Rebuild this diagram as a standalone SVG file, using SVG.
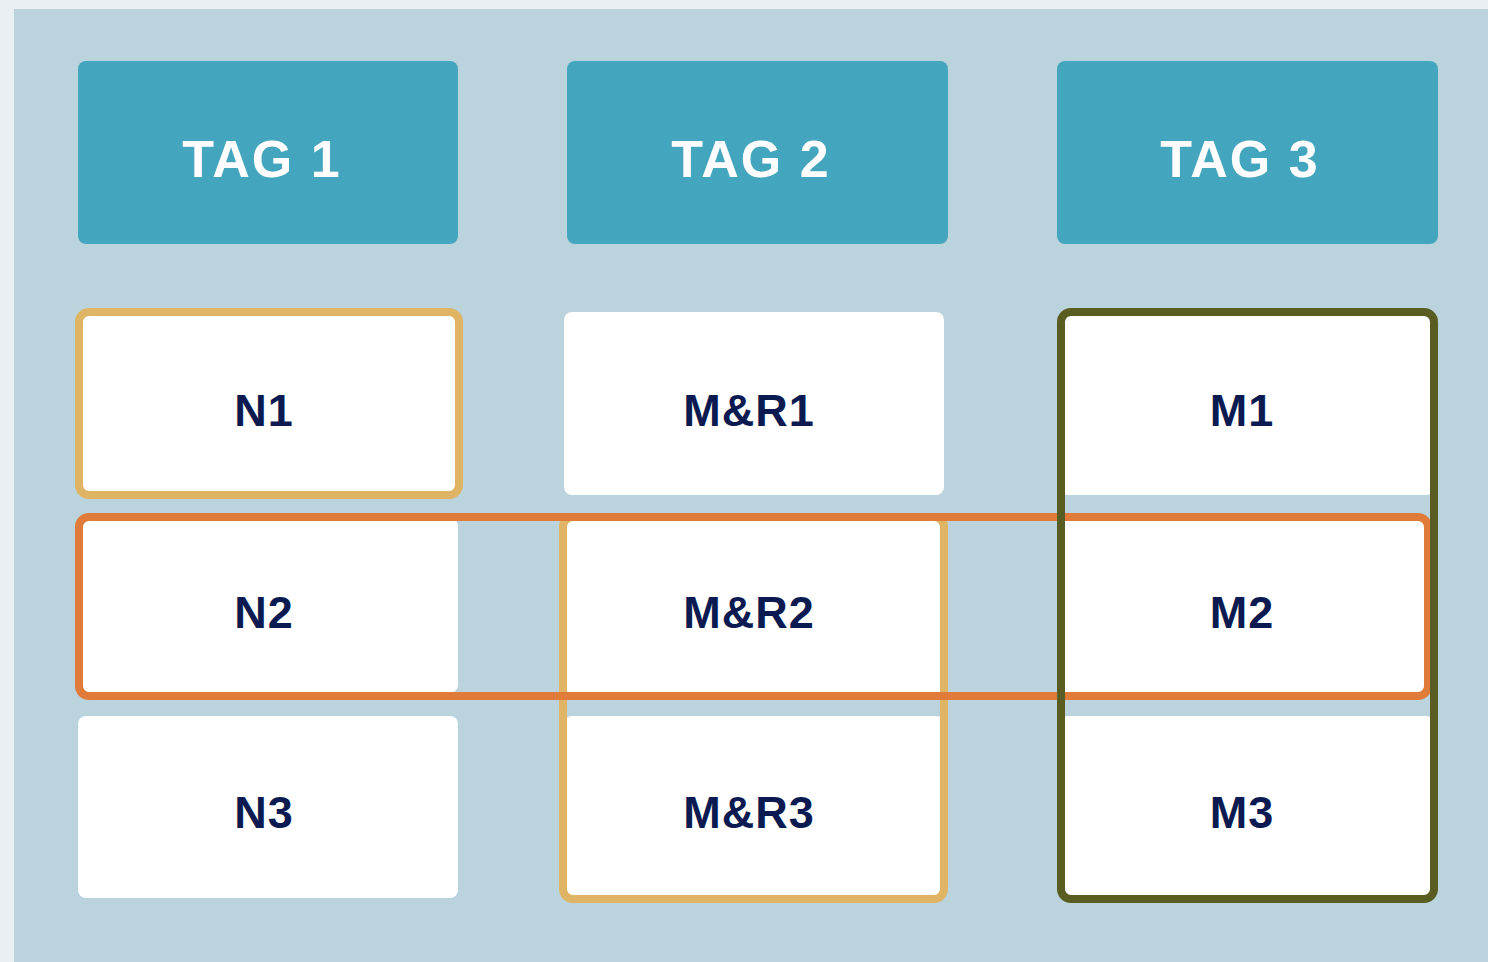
<svg xmlns="http://www.w3.org/2000/svg" width="1488" height="962" viewBox="0 0 1488 962">
<style>
.hdr{fill:#44a5be}
.box{fill:#ffffff}
.ht{font-family:"Liberation Sans",Arial,sans-serif;font-weight:bold;font-size:52px;fill:#ffffff;text-anchor:middle;letter-spacing:2px}
.bt{font-family:"Liberation Sans",Arial,sans-serif;font-weight:bold;font-size:45px;fill:#0b1a50;text-anchor:middle;letter-spacing:1px}
.ol{fill:none;stroke-width:8}
</style>
<rect x="0" y="0" width="1488" height="962" fill="#e9eff2"/>
<rect x="14" y="9" width="1474" height="953" fill="#bad3dc"/>
<g id="tag1"><rect class="hdr" x="78" y="61" width="380" height="183" rx="8"/><text class="ht" x="262" y="177">TAG 1</text></g>
<g id="tag2"><rect class="hdr" x="567" y="61" width="381" height="183" rx="8"/><text class="ht" x="751" y="177">TAG 2</text></g>
<g id="tag3"><rect class="hdr" x="1057" y="61" width="381" height="183" rx="8"/><text class="ht" x="1240" y="177">TAG 3</text></g>
<g id="n1"><rect class="box" x="78" y="312" width="380" height="183" rx="8"/><text class="bt" x="264" y="426">N1</text></g>
<g id="mr1"><rect class="box" x="564" y="312" width="380" height="183" rx="8"/><text class="bt" x="749" y="426">M&amp;R1</text></g>
<g id="m1"><rect class="box" x="1060" y="312" width="374" height="183" rx="8"/><text class="bt" x="1242" y="426">M1</text></g>
<g id="n2"><rect class="box" x="78" y="518" width="380" height="175" rx="8"/><text class="bt" x="264" y="628">N2</text></g>
<g id="mr2"><rect class="box" x="564" y="518" width="380" height="175" rx="8"/><text class="bt" x="749" y="628">M&amp;R2</text></g>
<g id="m2"><rect class="box" x="1060" y="518" width="374" height="175" rx="8"/><text class="bt" x="1242" y="628">M2</text></g>
<g id="n3"><rect class="box" x="78" y="716" width="380" height="182" rx="8"/><text class="bt" x="264" y="828">N3</text></g>
<g id="mr3"><rect class="box" x="564" y="716" width="380" height="182" rx="8"/><text class="bt" x="749" y="828">M&amp;R3</text></g>
<g id="m3"><rect class="box" x="1060" y="716" width="374" height="182" rx="8"/><text class="bt" x="1242" y="828">M3</text></g>
<g id="connectors">
<rect class="ol" x="79" y="312" width="380" height="183" rx="10" stroke="#dfb464"/>
<rect class="ol" x="563" y="517" width="381" height="382" rx="10" stroke="#dfb464"/>
<rect class="ol" x="79" y="517" width="1349" height="179" rx="10" stroke="#e07b39"/>
<rect class="ol" x="1061" y="312" width="373" height="587" rx="10" stroke="#5a5d22"/>
</g>
</svg>
